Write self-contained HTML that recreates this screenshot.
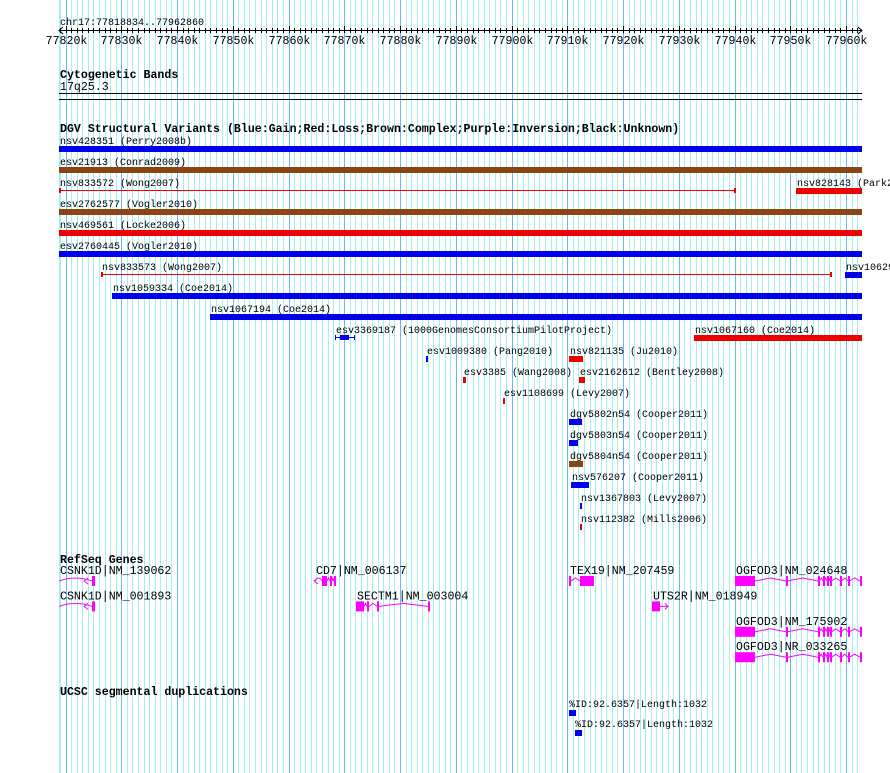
<!DOCTYPE html>
<html><head><meta charset="utf-8"><style>
html,body{margin:0;padding:0;background:#fff;}
svg{display:block;}
text{font-family:"Liberation Mono",monospace;font-size:10px;fill:#000;}
.t{font-weight:bold;font-size:11.6px;}
.m{font-size:11.6px;}
</style></head><body>
<svg id="c" width="890" height="773" xmlns="http://www.w3.org/2000/svg"></svg>
<script>
const START=77818834, END=77962860;
const X0=59, X1=862;
const svLabels=["nsv428351 (Perry2008b)","esv21913 (Conrad2009)","nsv833572 (Wong2007)","nsv828143 (Park2010)","esv2762577 (Vogler2010)","nsv469561 (Locke2006)","esv2760445 (Vogler2010)","nsv833573 (Wong2007)","nsv1062908 (Coe2014)","nsv1059334 (Coe2014)","nsv1067194 (Coe2014)","esv3369187 (1000GenomesConsortiumPilotProject)","nsv1067160 (Coe2014)","esv1009380 (Pang2010)","nsv821135 (Ju2010)","esv3385 (Wang2008)","esv2162612 (Bentley2008)","esv1108699 (Levy2007)","dgv5802n54 (Cooper2011)","dgv5803n54 (Cooper2011)","dgv5804n54 (Cooper2011)","nsv576207 (Cooper2011)","nsv1367803 (Levy2007)","nsv112382 (Mills2006)"];
const svStart=[77818.834,77818.834,77818.834,77951.02,77818.834,77818.834,77818.834,77826.37,77959.81,77828.34,77845.92,77868.34,77932.73,77884.66,77910.31,77891.30,77912.10,77898.47,77910.31,77910.31,77910.31,77910.67,77912.28,77912.28];
const svEnd=[77962.86,77962.86,77940.08,77962.86,77962.86,77962.86,77962.86,77957.30,77962.86,77962.86,77962.86,77871.92,77962.86,77885.02,77912.82,77891.83,77913.21,77898.83,77912.64,77911.92,77912.82,77913.90,77912.64,77912.64];
const svColor=["b","n","r","r","n","r","b","r","b","b","b","b","r","b","r","r","r","r","b","b","n","b","b","r"];
const svRow=[0,1,2,2,3,4,5,6,6,7,8,9,9,10,10,11,11,12,13,14,15,16,17,18];
const svThin=[0,0,1,0,0,0,0,1,0,0,0,0,0,0,0,0,0,0,0,0,0,0,0,0];
const geneLabels=["CSNK1D|NM_139062","CSNK1D|NM_001893","CD7|NM_006137","SECTM1|NM_003004","TEX19|NM_207459","UTS2R|NM_018949","OGFOD3|NM_024648","OGFOD3|NM_175902","OGFOD3|NR_033265"];
const geneRow=[0,1,0,1,0,1,0,2,3];
const geneStart=[77818.834,77818.834,77864.75,77872.10,77910.31,77925.19,77940.08,77940.08,77940.08];
const geneExonS=[[77824.75],[77824.75],[77866.0,77867.44,77868.1],[77872.10,77874.08,77875.87,77885.02],[77910.31,77912.28],[77925.19],[77940.08,77949.23,77954.97,77955.87,77956.6,77957.12,77958.92,77960.35,77962.50]];
const geneExonE=[[77825.29],[77825.29],[77866.9,77867.8,77868.52],[77873.54,77874.44,77876.23,77885.38],[77910.67,77914.79],[77926.63],[77943.67,77949.50,77955.2,77956.1,77956.8,77957.4,77959.2,77960.6,77962.8]];
const geneExonIdx=[0,1,2,3,4,5,6,6,6];
const geneStrand=[-1,-1,-1,1,1,1,1,1,1];
const dupLabels=["%ID:92.6357|Length:1032","%ID:92.6357|Length:1032"];
const dupStart=[77910.31,77911.38];
const dupEnd=[77911.56,77912.64];

const svg=document.getElementById('c');
const NS="http://www.w3.org/2000/svg";
const xs=kb=>X0+(kb*1000-START)*(X1-X0)/(END-START);
const COL={b:"#0000ee",r:"#ee0000",n:"#8b4513"};
function mk(t,a,p){const e=document.createElementNS(NS,t);for(const k in a)e.setAttribute(k,a[k]);(p||svg).appendChild(e);return e;}
for(let k=77819;k<=77962;k++){const x=Math.round(xs(k))+0.5;const major=k%10===0;
const l=mk('line',{x1:x,x2:x,y1:0,y2:773,stroke:major?"#6ab8ee":"#a6eef0","stroke-width":1});

}
mk('line',{x1:59.5,x2:59.5,y1:0,y2:773,stroke:"#a6eef0"});
let t=mk('text',{x:60,y:25});t.textContent="chr17:77818834..77962860";

mk('line',{x1:X0,x2:X1,y1:30.5,y2:30.5,stroke:"#000"});
mk('path',{d:"M63 27 L59 30.5 L63 34 M858 27 L862 30.5 L858 34",stroke:"#000",fill:"none"});
for(let k=77819;k<=77962;k++){const x=Math.round(xs(k))+0.5;mk('line',{x1:x,x2:x,y1:k%10===0?26:28,y2:33,stroke:"#000"});
if(k%10===0){const tt=mk('text',{x:x,y:44,"text-anchor":"middle",class:"m"});tt.textContent=k+"k";
}}
t=mk('text',{x:60,y:78,class:"t"});t.textContent="Cytogenetic Bands";

t=mk('text',{x:60,y:90,class:"m"});t.textContent="17q25.3";

mk('rect',{x:59,y:93,width:803,height:1,fill:"#000"});
mk('rect',{x:59,y:99,width:803,height:1,fill:"#000"});
t=mk('text',{x:60,y:132,class:"t"});t.textContent="DGV Structural Variants (Blue:Gain;Red:Loss;Brown:Complex;Purple:Inversion;Black:Unknown)";

svLabels.forEach((lab,i)=>{
 const y=146+svRow[i]*21;const x1=Math.round(xs(svStart[i])),x2=Math.max(Math.round(xs(svEnd[i])),x1+2);
 const g=mk('g',{});
 
 
 const tx=mk('text',{x:x1+1,y:y-2},g);tx.textContent=lab;
 const c=COL[svColor[i]];
 if(svThin[i]){mk('rect',{x:x1,y:y+2,width:x2-x1,height:1,fill:c},g);
  mk('rect',{x:x1,y:y,width:2,height:5,fill:c},g);mk('rect',{x:x2-1,y:y,width:2,height:5,fill:c},g);}
 else if(i===11){mk('rect',{x:x1,y:y+2,width:x2-x1,height:1,fill:c},g);mk('rect',{x:x1,y:y,width:1,height:5,fill:c},g);mk('rect',{x:x2-1,y:y,width:1,height:5,fill:c},g);mk('rect',{x:x1+5,y:y,width:9,height:5,fill:c},g);}
 else mk('rect',{x:x1,y:y,width:x2-x1,height:6,fill:c},g);
});
t=mk('text',{x:60,y:563,class:"t"});t.textContent="RefSeq Genes";

geneLabels.forEach((lab,i)=>{
 const yc=581+geneRow[i]*25.4;const g=mk('g',{});
 
 
 const s=geneExonS[geneExonIdx[i]],e=geneExonE[geneExonIdx[i]];
 const xa=xs(geneStart[i]);const tx=mk('text',{x:Math.round(xa)+1,y:yc-7,class:"m"},g);tx.textContent=lab;
 let d="";
 const ends=s.map((v,j)=>[xs(v),xs(e[j])]);
 if(geneStrand[i]<0 && ends[0][0]-xa>4){d+=`M${xa} ${yc} Q${(xa+ends[0][0])/2} ${yc-6} ${ends[0][0]} ${yc}`;}
 for(let j=1;j<ends.length;j++){const a=ends[j-1][1],b=ends[j][0];d+=`M${a} ${yc} L${(a+b)/2} ${yc-3} L${b} ${yc}`;}
 if(geneStrand[i]>0&&ends.length===1){const xb=ends[0][1];d+=`M${xb} ${yc} L${xb+8} ${yc} M${xb+5} ${yc-3} L${xb+8} ${yc} L${xb+5} ${yc+3}`;}
 if(geneStrand[i]<0){const xb=ends[0][0];if(ends[0][0]-xa>4)d+=`M${xb-4} ${yc-3} L${xb-8} ${yc} L${xb-4} ${yc+3}`;else d+=`M${xa-7} ${yc} L${xa} ${yc} M${xa-4} ${yc-3} L${xa-7} ${yc} L${xa-4} ${yc+3}`;}
 mk('path',{d:d,stroke:"#ff00ff",fill:"none","stroke-width":1},g);
 ends.forEach(([a,b])=>mk('rect',{x:Math.round(a),y:yc-5,width:Math.max(2,Math.round(b-a)),height:10,fill:"#ff00ff"},g));
});
t=mk('text',{x:60,y:695,class:"t"});t.textContent="UCSC segmental duplications";

dupLabels.forEach((lab,i)=>{const y=710+i*20;const x1=Math.round(xs(dupStart[i]));
 const g=mk('g',{});
 const tx=mk('text',{x:x1,y:y-3},g);tx.textContent=lab;
 mk('rect',{x:x1,y:y,width:Math.round(xs(dupEnd[i])-x1),height:6,fill:"#0000ee"},g);});
</script>
</body></html>
